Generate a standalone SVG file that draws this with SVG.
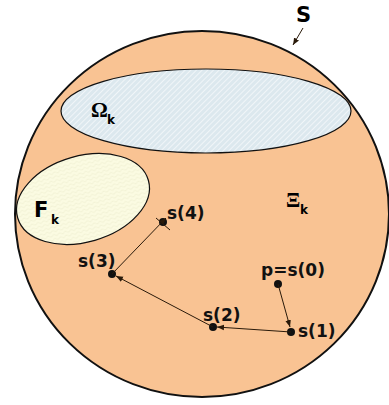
<svg xmlns="http://www.w3.org/2000/svg" width="389" height="405" viewBox="0 0 389 405">
<defs>
<pattern id="hatch" patternUnits="userSpaceOnUse" width="4" height="4" patternTransform="rotate(45)">
<rect width="4" height="4" fill="#dce8ee"/>
<line x1="0" y1="0" x2="0" y2="4" stroke="#ffffff" stroke-width="1.2"/>
</pattern>
<pattern id="wave" patternUnits="userSpaceOnUse" width="6" height="4">
<rect width="6" height="4" fill="#fbfbe2"/>
<path d="M0 3 L3 1 L6 3" fill="none" stroke="#eeeed0" stroke-width="0.7"/>
</pattern>
<marker id="ah" viewBox="0 0 10 10" refX="10" refY="5" markerWidth="7" markerHeight="7" orient="auto" markerUnits="userSpaceOnUse">
<path d="M0 1 L10 5 L0 9 z" fill="#2a1a0a"/>
</marker>
<style>
.lbl{font-family:"DejaVu Sans",Verdana,sans-serif;font-weight:bold;font-size:17px;fill:#111}
.big{font-family:"DejaVu Sans",Verdana,sans-serif;font-weight:bold;font-size:21px;fill:#000}
.grk{font-family:"Liberation Serif","DejaVu Serif",serif;font-weight:bold;font-size:21px;fill:#000}
.sub{font-family:"DejaVu Sans",Verdana,sans-serif;font-weight:bold;font-size:12px;fill:#000}
.dot{fill:#111}
.conn{stroke:#2a1a0a;stroke-width:1;fill:none}
</style>
</defs>
<rect width="389" height="405" fill="#ffffff"/>
<g id="sphere">
<ellipse cx="202" cy="214" rx="187" ry="183" fill="#f9c393" stroke="#111" stroke-width="2"/>
<text class="big" x="296" y="22" font-size="25">S</text>
</g>
<g id="omega">
<ellipse cx="206" cy="111" rx="145" ry="42" fill="url(#hatch)" stroke="#111" stroke-width="1.2"/>
<text class="grk" x="91" y="117">Ω</text>
<text class="sub" x="107" y="124">k</text>
</g>
<g id="F">
<ellipse cx="83" cy="199" rx="68" ry="43" transform="rotate(-16 83 199)" fill="url(#wave)" stroke="#111" stroke-width="1.2"/>
<text class="big" x="34" y="217">F</text>
<text class="sub" x="51" y="224">k</text>
</g>
<g id="xi">
<text class="grk" x="286" y="207">Ξ</text>
<text class="sub" x="300" y="214">k</text>
</g>
<g id="s0">
<circle class="dot" cx="278" cy="284" r="4"/>
<text class="lbl" x="261" y="276">p=s(0)</text>
</g>
<g id="s1">
<circle class="dot" cx="291" cy="332" r="4"/>
<text class="lbl" x="298" y="337">s(1)</text>
</g>
<g id="s2">
<circle class="dot" cx="213" cy="327" r="4"/>
<text class="lbl" x="203" y="321">s(2)</text>
</g>
<g id="s3">
<circle class="dot" cx="112" cy="274" r="4"/>
<text class="lbl" x="78" y="267">s(3)</text>
</g>
<g id="s4">
<circle class="dot" cx="163" cy="222" r="4"/>
<text class="lbl" x="167" y="219">s(4)</text>
</g>
<g id="connectors">
<line class="conn" x1="303" y1="28" x2="293" y2="45" marker-end="url(#ah)"/>
<line class="conn" x1="278" y1="284" x2="290" y2="327" marker-end="url(#ah)"/>
<line class="conn" x1="291" y1="332" x2="217" y2="327" marker-end="url(#ah)"/>
<line class="conn" x1="213" y1="327" x2="116" y2="276" marker-end="url(#ah)"/>
<line class="conn" x1="112" y1="274" x2="166" y2="218" marker-end="url(#ah)"/>
<line class="conn" x1="156" y1="218" x2="170" y2="230"/>
</g>
</svg>
